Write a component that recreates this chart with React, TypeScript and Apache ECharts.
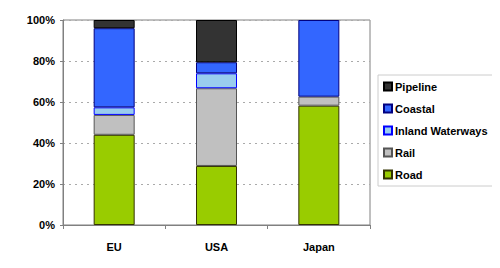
import React, { useEffect, useRef } from "react";
import * as echarts from "echarts";

const categories = ["EU", "USA", "Japan"];
const road = [44, 28.8, 58.2];
const rail = [9.7, 37.9, 4.4];
const inland = [3.7, 7.3, null];
const coastal = [38.6, 5.4, 37.4];
const pipeline = [4, 20.6, null];
const yTicks = [0, 20, 40, 60, 80, 100];

export default function App() {
  const ref = useRef<HTMLDivElement>(null);
  useEffect(() => {
    const chart = echarts.init(ref.current!, null, { renderer: "svg" });
    const font = { fontFamily: "Liberation Sans, Arial, sans-serif", fontWeight: "bold" as const, fontSize: 11, color: "#000" };
    const mk = (name: string, data: (number | null)[], color: string, border: string) => ({
      name,
      type: "bar",
      stack: "total",
      data,
      barWidth: 41,
      itemStyle: { color, borderColor: border, borderWidth: 1 },
    });
    chart.setOption({
      animation: false,
      backgroundColor: "#fff",
      grid: { left: 63, right: 130, top: 20, bottom: 43, show: true, borderColor: "#808080", borderWidth: 1 },
      xAxis: {
        type: "category",
        data: categories,
        axisLine: { lineStyle: { color: "#808080" } },
        axisTick: { show: true, length: 4, lineStyle: { color: "#808080" } },
        axisLabel: { ...font, margin: 16 },
      },
      yAxis: {
        type: "value",
        min: yTicks[0],
        max: yTicks[yTicks.length - 1],
        interval: 20,
        axisLine: { show: true, lineStyle: { color: "#808080" } },
        axisTick: { show: true, length: 3, lineStyle: { color: "#808080" } },
        axisLabel: { ...font, formatter: "{value}%", margin: 8 },
        splitLine: { lineStyle: { color: "#aaa", type: [2, 4] } },
      },
      legend: {
        orient: "vertical",
        left: 378,
        top: 75,
        padding: [6, 8, 6, 5],
        itemWidth: 8,
        itemHeight: 8,
        itemGap: 11,
        icon: "rect",
        borderColor: "#ccc",
        borderWidth: 1,
        textStyle: { ...font, padding: [0, 0, 0, -2] },
        data: ["Pipeline", "Coastal", "Inland Waterways", "Rail", "Road"],
      },
      series: [
        mk("Road", road, "#99CC00", "#333300"),
        mk("Rail", rail, "#C0C0C0", "#555555"),
        mk("Inland Waterways", inland, "#99CCEE", "#0000FF"),
        mk("Coastal", coastal, "#3366FF", "#000080"),
        mk("Pipeline", pipeline, "#333333", "#000000"),
      ],
    });
    return () => chart.dispose();
  }, []);
  return <div ref={ref} style={{ width: 500, height: 268, margin: -8 }} />;
}
